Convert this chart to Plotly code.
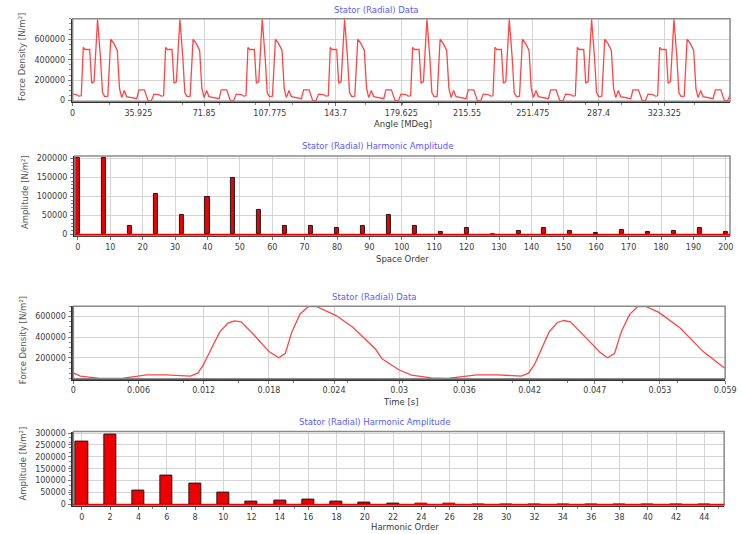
import plotly.graph_objects as go

W, H = 743, 534

# ---- Panel 1: stator radial force density vs rotor angle (one 45 deg pole-pair period) ----
angle_period = [0, 2.0, 3.4, 4.7, 5.8, 6.8, 9.3, 10.4, 11.7, 13.6, 15.2, 16.3, 17.5, 19.2,
                20.8, 22.5, 24.4, 25.6, 26.8, 28.2, 29.5, 32.5, 35.0, 36.2, 39.2, 41.2, 43.0, 44.4]
density_period = [64000, 60000, 45000, 48000, 521000, 500000, 500000, 170000, 186000, 795000,
                  420000, 80000, 40000, 45000, 600000, 560000, 490000, 121000, 30000, 100000,
                  40000, 30000, 20000, 106000, 106000, 0, 0, 64000]
n_periods = 8
period_deg = 45.0
angle_ticks = [0, 35.925, 71.85, 107.775, 143.7, 179.625, 215.55, 251.475, 287.4, 323.325]
angle_tick_text = ["0", "35.925", "71.85", "107.775", "143.7", "179.625", "215.55",
                   "251.475", "287.4", "323.325"]

# ---- Panel 2: space harmonic amplitudes ----
space_order = [0, 8, 16, 24, 32, 40, 48, 56, 64, 72, 80, 88, 96, 104, 112, 120, 128,
               136, 144, 152, 160, 168, 176, 184, 192, 200]
space_amp = [202000, 201000, 22000, 107000, 52000, 98000, 147000, 63000, 21000, 23000,
             17000, 23000, 51000, 21500, 6000, 17000, 2000, 9500, 17000, 8000, 4500,
             13000, 6000, 8000, 17000, 6000]

# ---- Panel 3: force density vs time ----
time_s = [0, 0.00065, 0.0014, 0.00244, 0.00334, 0.00453, 0.00573, 0.00662, 0.00841, 0.0096,
          0.01065, 0.01133, 0.01184, 0.01258, 0.01333, 0.01408, 0.01468, 0.01527, 0.01647,
          0.01781, 0.0187, 0.0193, 0.01989, 0.02064, 0.02139, 0.02213, 0.02303, 0.02392,
          0.02541, 0.0266, 0.0275, 0.0281, 0.02959, 0.03078, 0.03257, 0.03406, 0.03555,
          0.03674, 0.03853, 0.03973, 0.04077, 0.04143, 0.04197, 0.04331, 0.04406, 0.04466,
          0.04525, 0.04659, 0.04793, 0.04862, 0.04927, 0.04987, 0.05062, 0.05137, 0.05211,
          0.0533, 0.05524, 0.05733, 0.05927]
time_density = [54000, 22000, 13000, 0, 0, 3000, 19000, 35000, 35000, 25000,
                22000, 51000, 133000, 292000, 451000, 537000, 559000, 549000, 419000,
                260000, 200000, 244000, 451000, 625000, 698000, 698000, 657000, 610000,
                498000, 371000, 285000, 190000, 86000, 32000, 6000, 0, 19000,
                35000, 35000, 25000, 22000, 51000, 133000, 451000, 543000, 562000,
                549000, 403000, 254000, 200000, 244000, 451000, 619000, 698000, 698000,
                641000, 489000, 260000, 102000]
time_ticks = [0, 0.005933, 0.011866, 0.017799, 0.023732, 0.029665, 0.035598, 0.041531,
              0.047464, 0.053397, 0.05933]
time_tick_text = ["0", "0.006", "0.012", "0.018", "0.024", "0.03", "0.036", "0.042",
                  "0.047", "0.053", "0.059"]

# ---- Panel 4: time harmonic amplitudes ----
harm_order = [0, 2, 4, 6, 8, 10, 12, 14, 16, 18, 20, 22, 24, 26, 28, 30, 32, 34, 36, 38, 40, 42, 44]
harm_amp = [266000, 295000, 59000, 121000, 88000, 51000, 12000, 15000, 18000, 12000, 7000,
            5000, 2500, 2500, 1000, 1000, 1000, 1000, 1000, 1000, 1000, 1000, 1000]

# ---- styling ----
FONT = "DejaVu Sans"
TITLE_BLUE = "#5a5aff"
TEXT = "#3a3a3a"
GRID = "#d4d4d4"
LINE_RED = "#ff4545"
BAR_RED = "#ee0000"


def px_x(x):
    return x / W


def px_y(y):
    return 1 - y / H


# plot areas in pixels: (left, top, right, bottom)
boxes = [
    (71.0, 16.0, 741.0, 99.5),
    (73.3, 155.0, 741.0, 235.5),
    (71.7, 307.3, 736.0, 380.7),
    (71.7, 434.3, 735.0, 509.0),
]

angle_deg = [a + period_deg * k for k in range(n_periods) for a in angle_period]
density = [d for k in range(n_periods) for d in density_period]

fig = go.Figure()

fig.add_trace(go.Scatter(x=angle_deg, y=density, mode="lines",
                         line=dict(color=LINE_RED, width=1.3), xaxis="x", yaxis="y"))


def bar_outline(vals):
    return ["#1a1a1a" if v >= 4000 else BAR_RED for v in vals]


fig.add_trace(go.Bar(x=space_order, y=space_amp, width=1.25,
                     marker=dict(color=BAR_RED, line=dict(color=bar_outline(space_amp), width=1)),
                     xaxis="x2", yaxis="y2"))

fig.add_trace(go.Scatter(x=time_s, y=time_density, mode="lines",
                         line=dict(color=LINE_RED, width=1.3), xaxis="x3", yaxis="y3"))

fig.add_trace(go.Bar(x=harm_order, y=harm_amp, width=0.85,
                     marker=dict(color=BAR_RED, line=dict(color=bar_outline(harm_amp), width=1)),
                     xaxis="x4", yaxis="y4"))

common_axis = dict(
    showgrid=True, gridcolor=GRID, gridwidth=1.4, zeroline=False,
    showline=True, linecolor="#2e2e2e", linewidth=2,
    ticks="outside", ticklen=3, tickcolor="#777777", tickwidth=1,
    tickfont=dict(family=FONT, size=8, color=TEXT),
    ticklabeloverflow="allow",
    fixedrange=True,
)

minor_x = dict(ticks="outside", ticklen=2, tickcolor="#888", showgrid=False)
minor_y = dict(ticks="outside", ticklen=2, nticks=5, tickcolor="#888", showgrid=False)

layout_axes = {}
specs = [
    dict(x=dict(range=[0, 359.25], tickvals=angle_ticks, ticktext=angle_tick_text,
                minor=dict(minor_x, nticks=4)),
         y=dict(range=[-5000, 800000], tickvals=[0, 200000, 400000, 600000],
                ticktext=["0", "200000", "400000", "600000"], minor=minor_y)),
    dict(x=dict(range=[-0.9, 201.3], tickvals=list(range(0, 201, 10)),
                ticktext=[str(v) for v in range(0, 201, 10)]),
         y=dict(range=[-2500, 206000], tickvals=[0, 50000, 100000, 150000, 200000],
                ticktext=["0", "50000", "100000", "150000", "200000"], minor=minor_y)),
    dict(x=dict(range=[0, 0.05933], tickvals=time_ticks, ticktext=time_tick_text,
                minor=dict(minor_x, nticks=4)),
         y=dict(range=[-3000, 700000], tickvals=[200000, 400000, 600000],
                ticktext=["200000", "400000", "600000"], minor=minor_y)),
    dict(x=dict(range=[-0.6, 45.4], tickvals=list(range(0, 45, 2)),
                ticktext=[str(v) for v in range(0, 45, 2)],
                minor=dict(minor_x, nticks=2)),
         y=dict(range=[-4000, 306000], tickvals=[0, 50000, 100000, 150000, 200000, 250000, 300000],
                ticktext=["0", "50000", "100000", "150000", "200000", "250000", "300000"],
                minor=minor_y)),
]

shapes = []
for i, ((l, t, r, b), spec) in enumerate(zip(boxes, specs), start=1):
    xs = "" if i == 1 else str(i)
    xa = dict(common_axis, domain=[px_x(l), px_x(r)], anchor="y" + xs, tickmode="array",
              **spec["x"])
    ya = dict(common_axis, domain=[px_y(b), px_y(t)], anchor="x" + xs, tickmode="array",
              ticklabelstandoff=1, **spec["y"])
    layout_axes["xaxis" + xs] = xa
    layout_axes["yaxis" + xs] = ya
    # light frame around each plot area
    shapes.append(dict(type="rect", xref="x%s domain" % xs, yref="y%s domain" % xs,
                       x0=0, x1=1, y0=0, y1=1, line=dict(color="#8a8a8a", width=1.5),
                       layer="above"))

# red zero baselines under the harmonic bars
for xs in ("2", "4"):
    shapes.append(dict(type="line", xref="x%s domain" % xs, yref="y" + xs,
                       x0=0, x1=1, y0=0, y1=0, line=dict(color=BAR_RED, width=1.5),
                       layer="above"))

annotations = []
titles = [
    ("Stator (Radial) Data", 381, 7.5),
    ("Stator (Radial) Harmonic Amplitude", 382, 144.5),
    ("Stator (Radial) Data", 379, 297.5),
    ("Stator (Radial) Harmonic Amplitude", 379, 425),
]
for text, x, y in titles:
    annotations.append(dict(text=text, x=px_x(x), y=px_y(y), xref="paper", yref="paper",
                            xanchor="center", yanchor="middle", showarrow=False,
                            font=dict(family=FONT, size=8.5, color=TITLE_BLUE)))

xtitles = [
    ("Angle [MDeg]", 408, 123),
    ("Space Order", 407, 259),
    ("Time [s]", 406, 404),
    ("Harmonic Order", 410, 531),
]
for text, x, y in xtitles:
    annotations.append(dict(text=text, x=px_x(x), y=px_y(y), xref="paper", yref="paper",
                            xanchor="center", yanchor="middle", showarrow=False,
                            font=dict(family=FONT, size=8.5, color=TEXT)))

ytitles = [
    ("Force Density [N/m²]", 20, 55),
    ("Amplitude [N/m²]", 23, 192),
    ("Force Density [N/m²]", 20, 342),
    ("Amplitude [N/m²]", 20, 467),
]
for text, x, y in ytitles:
    annotations.append(dict(text=text, x=px_x(x), y=px_y(y), xref="paper", yref="paper",
                            xanchor="center", yanchor="middle", showarrow=False, textangle=-90,
                            font=dict(family=FONT, size=8.5, color="#555555")))

fig.update_layout(
    width=W, height=H,
    margin=dict(l=0, r=0, t=0, b=0),
    paper_bgcolor="white", plot_bgcolor="white",
    showlegend=False, bargap=0,
    shapes=shapes, annotations=annotations,
    **layout_axes,
)

fig.write_html("out.html", config={"displayModeBar": False})
